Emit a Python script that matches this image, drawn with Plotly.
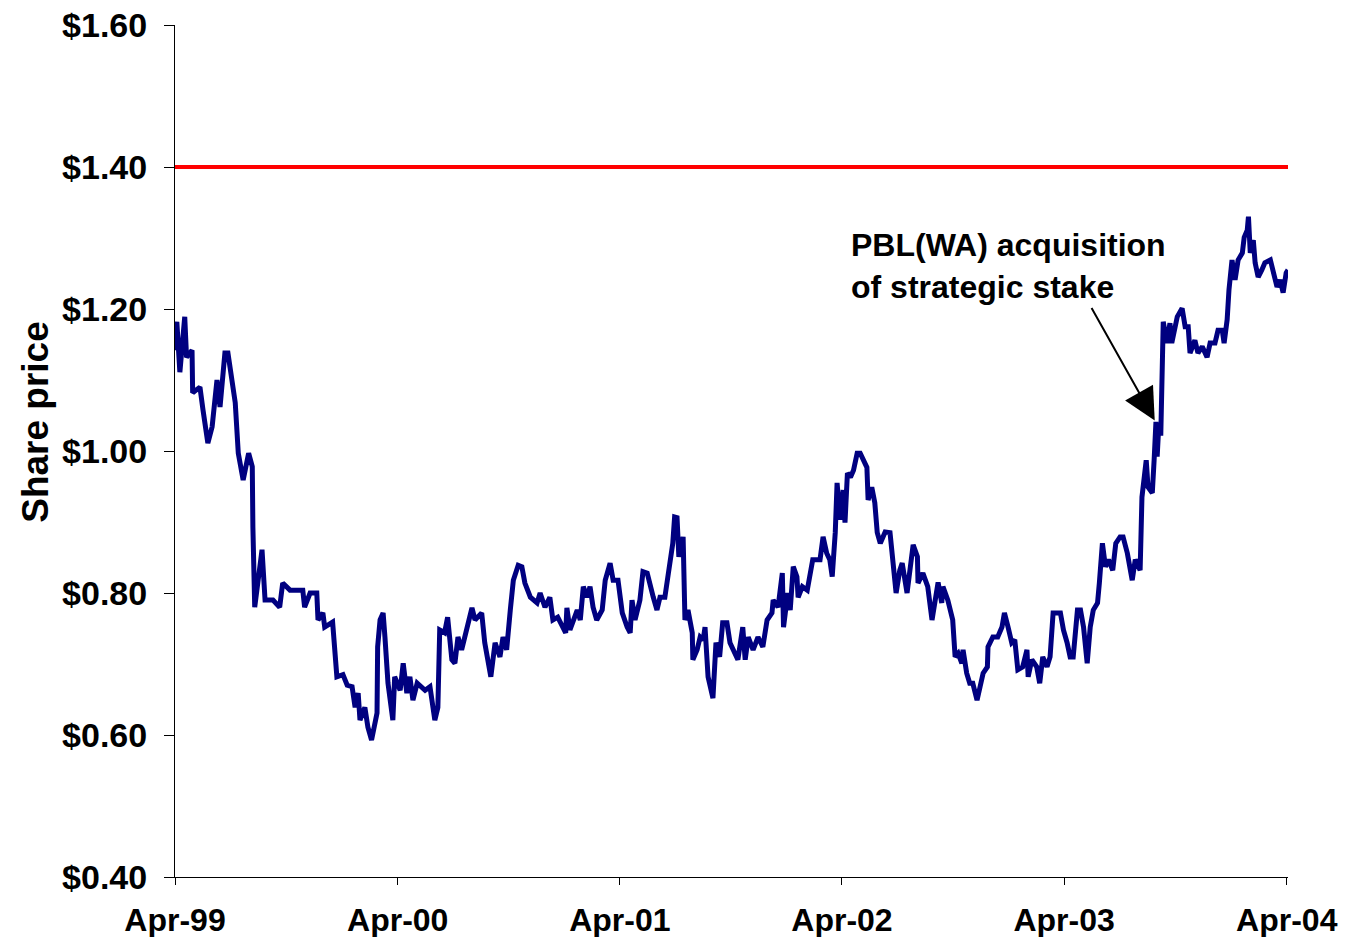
import plotly.graph_objects as go

dates = [
    "1999-04-01","1999-04-04","1999-04-09","1999-04-17","1999-04-20","1999-04-29","1999-04-30","1999-05-12",
    "1999-05-17","1999-05-25","1999-06-01","1999-06-09","1999-06-14","1999-06-22","1999-06-27","1999-07-04",
    "1999-07-09","1999-07-14","1999-07-22","1999-07-31","1999-08-06","1999-08-07","1999-08-10","1999-08-22",
    "1999-08-27","1999-09-09","1999-09-20","1999-09-25","1999-10-07","1999-10-28","1999-10-31","1999-11-09",
    "1999-11-20","1999-11-22","1999-11-30","1999-12-03","1999-12-16","1999-12-23","2000-01-02","2000-01-09",
    "2000-01-17","2000-01-22","2000-01-27","2000-01-30","2000-02-07","2000-02-12","2000-02-18","2000-02-27",
    "2000-02-28","2000-03-03","2000-03-08","2000-03-11","2000-03-16","2000-03-24","2000-03-27","2000-04-05",
    "2000-04-10","2000-04-16","2000-04-21","2000-04-26","2000-05-03","2000-05-16","2000-05-24","2000-06-01",
    "2000-06-06","2000-06-09","2000-06-17","2000-06-22","2000-06-29","2000-07-04","2000-07-09","2000-07-15",
    "2000-07-25","2000-08-01","2000-08-06","2000-08-17","2000-08-22","2000-08-27","2000-09-01","2000-09-08",
    "2000-09-16","2000-09-21","2000-09-27","2000-10-03","2000-10-08","2000-10-16","2000-10-22","2000-10-27",
    "2000-11-05","2000-11-16","2000-11-21","2000-11-29","2000-12-07","2000-12-12","2000-12-20","2001-01-02",
    "2001-01-04","2001-01-09","2001-01-21","2001-01-26","2001-01-31","2001-02-06","2001-02-11","2001-02-16",
    "2001-02-22","2001-03-03","2001-03-08","2001-03-16","2001-03-21","2001-03-29","2001-04-05","2001-04-13",
    "2001-04-18","2001-04-21","2001-04-26","2001-05-04","2001-05-09","2001-05-16","2001-05-21","2001-05-26",
    "2001-06-01","2001-06-06","2001-06-14","2001-06-17","2001-06-22","2001-06-27","2001-06-30","2001-07-04",
    "2001-07-07","2001-07-14","2001-07-17","2001-07-22","2001-07-29","2001-07-30","2001-08-06","2001-08-11",
    "2001-08-16","2001-08-19","2001-08-24","2001-09-01","2001-09-06","2001-09-12","2001-09-17","2001-09-24",
    "2001-09-29","2001-10-04","2001-10-12","2001-10-20","2001-10-24","2001-10-29","2001-11-06","2001-11-14",
    "2001-11-22","2001-11-29","2001-12-07","2001-12-09","2001-12-17","2001-12-24","2001-12-26","2002-01-02",
    "2002-01-06","2002-01-11","2002-01-17","2002-01-19","2002-01-26","2002-02-03","2002-02-07","2002-02-12",
    "2002-02-24","2002-03-01","2002-03-07","2002-03-12","2002-03-16","2002-03-21","2002-03-24","2002-03-29",
    "2002-04-03","2002-04-06","2002-04-10","2002-04-15","2002-04-20","2002-04-26","2002-05-01","2002-05-06",
    "2002-05-12","2002-05-14","2002-05-20","2002-05-25","2002-05-29","2002-06-03","2002-06-11","2002-06-19",
    "2002-06-24","2002-06-29","2002-07-05","2002-07-09","2002-07-17","2002-07-22","2002-07-27","2002-08-03",
    "2002-08-04","2002-08-12","2002-08-20","2002-08-27","2002-09-01","2002-09-06","2002-09-12","2002-09-14",
    "2002-09-22","2002-09-30","2002-10-04","2002-10-09","2002-10-15","2002-10-17","2002-10-23","2002-10-28",
    "2002-11-02","2002-11-09","2002-11-14","2002-11-19","2002-11-26","2002-11-27","2002-12-05","2002-12-13",
    "2002-12-20","2002-12-24","2002-12-30","2003-01-05","2003-01-10","2003-01-15","2003-01-23","2003-01-30",
    "2003-02-01","2003-02-07","2003-02-15","2003-02-20","2003-02-25","2003-03-04","2003-03-09","2003-03-14",
    "2003-03-26","2003-03-31","2003-04-06","2003-04-11","2003-04-16","2003-04-23","2003-04-28","2003-05-03",
    "2003-05-09","2003-05-14","2003-05-19","2003-05-26","2003-05-29","2003-06-03","2003-06-08","2003-06-13",
    "2003-06-20","2003-06-25","2003-07-02","2003-07-07","2003-07-14","2003-07-19","2003-07-22","2003-07-27",
    "2003-08-04","2003-08-07","2003-08-14","2003-08-17","2003-08-24","2003-08-27","2003-08-30","2003-09-01",
    "2003-09-03","2003-09-07","2003-09-11","2003-09-17","2003-09-22","2003-09-25","2003-10-04","2003-10-12",
    "2003-10-17","2003-10-22","2003-10-25","2003-11-02","2003-11-07","2003-11-14","2003-11-22","2003-11-27",
    "2003-12-05","2003-12-10","2003-12-17","2003-12-20","2003-12-25","2003-12-28","2004-01-02","2004-01-07",
    "2004-01-12","2004-01-19","2004-01-22","2004-01-27","2004-01-29","2004-02-01","2004-02-06","2004-02-09",
    "2004-02-14","2004-02-20","2004-02-25","2004-03-05","2004-03-10","2004-03-16","2004-03-21","2004-03-26",
    "2004-03-31","2004-04-03",
]

prices = [
    1.142,1.182,1.111,1.189,1.132,1.142,1.082,1.090,
    1.058,1.011,1.034,1.100,1.062,1.138,1.138,1.096,
    1.068,0.997,0.959,0.997,0.978,0.893,0.780,0.861,
    0.790,0.790,0.780,0.814,0.804,0.804,0.780,0.800,
    0.800,0.762,0.772,0.752,0.759,0.682,0.685,0.670,
    0.668,0.639,0.659,0.621,0.639,0.611,0.593,0.631,
    0.724,0.762,0.772,0.738,0.673,0.621,0.682,0.663,
    0.701,0.659,0.682,0.649,0.673,0.663,0.668,0.621,
    0.639,0.748,0.744,0.766,0.706,0.701,0.738,0.720,
    0.758,0.779,0.762,0.772,0.730,0.710,0.682,0.730,
    0.710,0.738,0.720,0.776,0.818,0.839,0.837,0.814,
    0.794,0.786,0.800,0.780,0.794,0.762,0.766,0.744,
    0.779,0.748,0.776,0.762,0.809,0.794,0.809,0.780,
    0.762,0.776,0.818,0.842,0.818,0.818,0.772,0.752,
    0.744,0.790,0.762,0.790,0.830,0.828,0.814,0.794,
    0.776,0.794,0.794,0.814,0.842,0.870,0.907,0.906,
    0.851,0.879,0.762,0.776,0.744,0.706,0.720,0.738,
    0.734,0.752,0.682,0.652,0.730,0.710,0.758,0.758,
    0.730,0.720,0.706,0.752,0.706,0.738,0.720,0.738,
    0.724,0.762,0.772,0.790,0.780,0.828,0.752,0.800,
    0.776,0.837,0.823,0.794,0.809,0.804,0.823,0.847,
    0.847,0.879,0.856,0.847,0.823,0.885,0.955,0.903,
    0.945,0.899,0.969,0.963,0.973,0.997,0.997,0.987,
    0.977,0.931,0.949,0.927,0.885,0.870,0.886,0.885,
    0.842,0.800,0.832,0.842,0.800,0.837,0.868,0.851,
    0.814,0.828,0.809,0.762,0.786,0.815,0.786,0.809,
    0.790,0.762,0.710,0.715,0.701,0.720,0.687,0.673,
    0.673,0.649,0.668,0.687,0.696,0.724,0.738,0.738,
    0.752,0.772,0.752,0.730,0.734,0.692,0.696,0.720,
    0.682,0.706,0.696,0.673,0.710,0.696,0.710,0.772,
    0.772,0.748,0.730,0.710,0.710,0.776,0.776,0.752,
    0.701,0.752,0.776,0.786,0.814,0.870,0.837,0.847,
    0.832,0.870,0.879,0.879,0.856,0.837,0.818,0.847,
    0.832,0.935,0.987,0.949,0.941,0.987,1.041,0.992,
    1.025,1.025,1.182,1.152,1.180,1.152,1.189,1.201,
    1.175,1.175,1.138,1.156,1.138,1.147,1.132,1.152,
    1.152,1.170,1.170,1.152,1.185,1.227,1.269,1.241,
    1.269,1.279,1.301,1.311,1.330,1.279,1.297,1.265,
    1.245,1.255,1.265,1.269,1.251,1.231,1.241,1.223,
    1.251,1.255,
]

target_price = 1.40
tick_dates = ["1999-04-01", "2000-04-01", "2001-04-01", "2002-04-01", "2003-04-01", "2004-04-01"]
tick_labels = ["Apr-99", "Apr-00", "Apr-01", "Apr-02", "Apr-03", "Apr-04"]
y_ticks = [0.40, 0.60, 0.80, 1.00, 1.20, 1.40, 1.60]
event_date = "2003-08-28"
event_price = 1.043
event_text = "PBL(WA) acquisition<br>of strategic stake"
y_title = "Share price"

FONT = "Liberation Sans, Arial, sans-serif"

fig = go.Figure()
fig.add_trace(go.Scatter(
    x=dates, y=prices, mode="lines",
    line=dict(color="#000080", width=5),
    showlegend=False,
))
fig.add_shape(type="line", xref="paper", x0=0, x1=1, yref="y", y0=target_price, y1=target_price,
              line=dict(color="#FF0000", width=4))

fig.add_annotation(
    x=event_date, y=event_price, xref="x", yref="y",
    text="", showarrow=True, arrowhead=2, arrowsize=3.2, arrowwidth=2,
    arrowcolor="black", ax=-64, ay=-114,
)
fig.add_annotation(
    x=0.6055, y=1.26, xref="paper", yref="y",
    text=event_text, showarrow=False, xanchor="left", yanchor="middle", align="left",
    font=dict(family=FONT, size=32, color="black", weight="bold"),
)
fig.add_annotation(
    x=-0.126, y=0.534, xref="paper", yref="paper",
    text=y_title, showarrow=False, textangle=-90, xanchor="center", yanchor="middle",
    font=dict(family=FONT, size=37, color="black", weight="bold"),
)

fig.update_layout(
    width=1339, height=929,
    margin=dict(l=167, r=59, t=17, b=60),
    paper_bgcolor="white", plot_bgcolor="white",
    font=dict(family=FONT, color="black"),
    xaxis=dict(
        range=["1999-04-01", "2004-04-03"],
        tickmode="array", tickvals=tick_dates, ticktext=tick_labels,
        tickfont=dict(family=FONT, size=32, color="black", weight="bold"),
        showline=True, linecolor="black", linewidth=1,
        ticks="outside", ticklen=7, tickcolor="black", tickwidth=1,
        ticklabelstandoff=8, ticklabeloverflow="allow",
        showgrid=False, zeroline=False, automargin=False,
    ),
    yaxis=dict(
        range=[0.40, 1.60],
        tickmode="array", tickvals=y_ticks, tickformat="$.2f",
        tickfont=dict(family=FONT, size=34, color="black", weight="bold"),
        showline=True, linecolor="black", linewidth=1,
        ticks="outside", ticklen=10, tickcolor="black", tickwidth=1,
        ticklabelstandoff=10, ticklabeloverflow="allow",
        showgrid=False, zeroline=False, automargin=False,
    ),
)

fig.write_html("out.html")
